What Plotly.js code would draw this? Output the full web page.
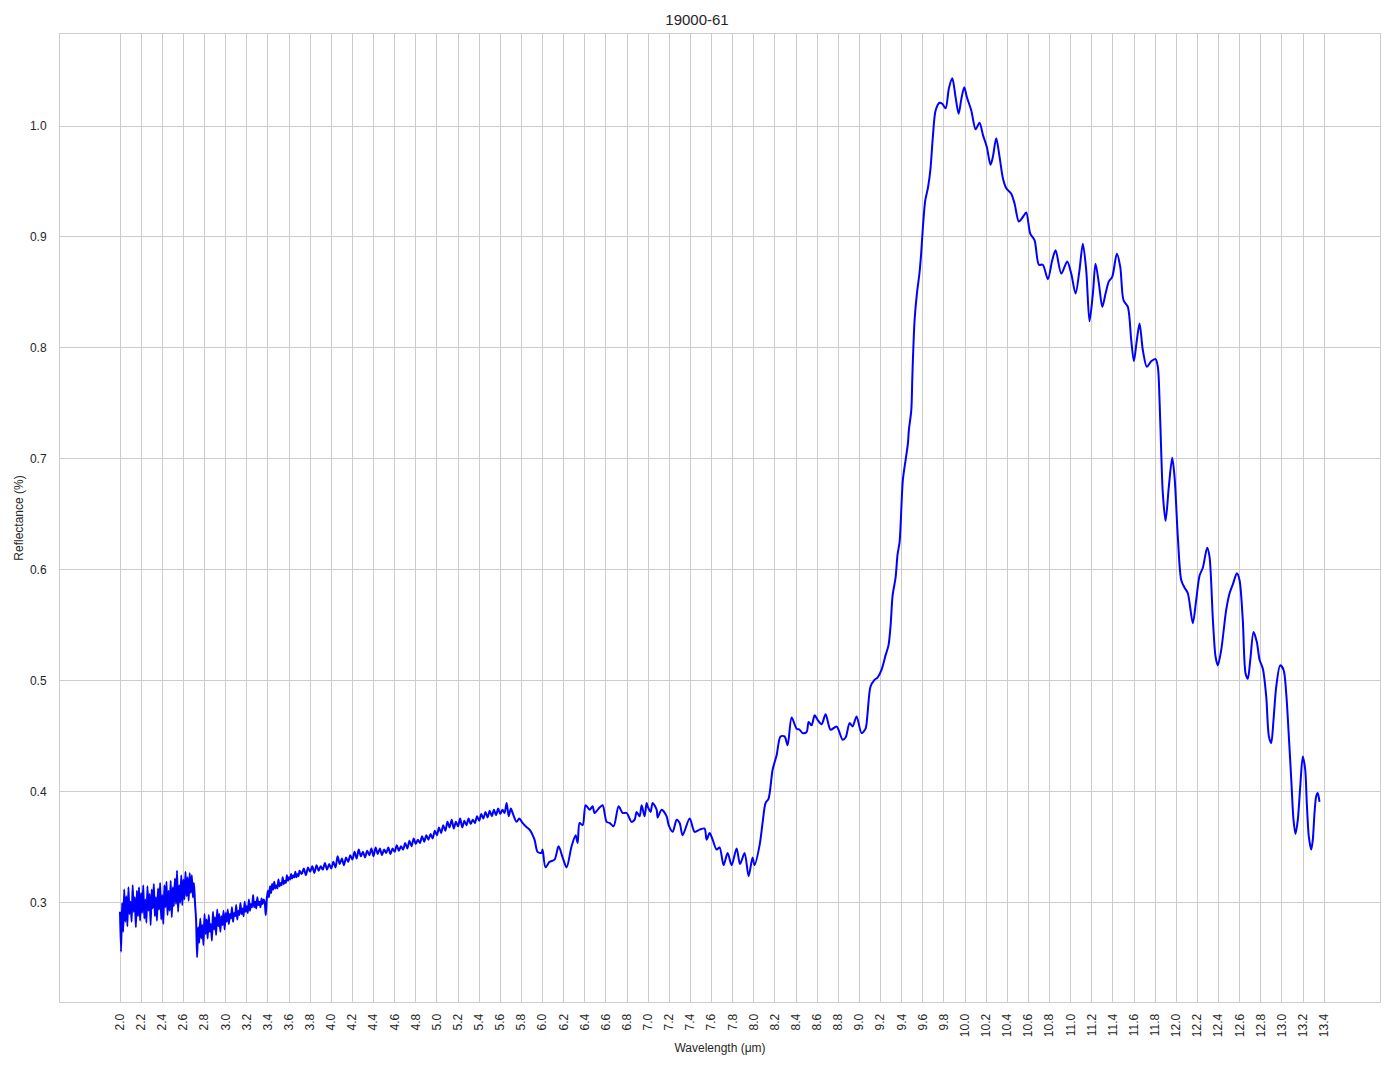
<!DOCTYPE html>
<html>
<head>
<meta charset="utf-8">
<script src="https://cdn.plot.ly/plotly-3.0.1.min.js"></script>
<style>html,body{margin:0;padding:0;background:#fff;}#chart{width:1394px;height:1069px;}</style>
</head>
<body>
<div id="chart"></div>
<script>
// Wavelength (µm) and reflectance readings, noisy short-wave part
const wlNoisy = [2.00,2.01,2.02,2.03,2.04,2.05,2.06,2.07,2.08,2.09,2.10,2.11,2.12,2.13,2.14,2.15,2.16,2.17,2.18,2.19,
2.20,2.21,2.22,2.23,2.24,2.25,2.26,2.27,2.28,2.29,2.30,2.31,2.32,2.33,2.34,2.35,2.36,2.37,2.38,2.39,
2.40,2.41,2.42,2.43,2.44,2.45,2.46,2.47,2.48,2.49,2.50,2.51,2.52,2.53,2.54,2.55,2.56,2.57,2.58,2.59,
2.60,2.61,2.62,2.63,2.64,2.65,2.66,2.67,2.68,2.69,2.70,2.71,2.72,2.73,2.74,2.75,2.76,2.77,2.78,2.79,
2.80,2.81,2.82,2.83,2.84,2.85,2.86,2.87,2.88,2.89,2.90,2.91,2.92,2.93,2.94,2.95,2.96,2.97,2.98,2.99,
3.00,3.01,3.02,3.03,3.04,3.05,3.06,3.07,3.08,3.09,3.10,3.11,3.12,3.13,3.14,3.15,3.16,3.17,3.18,3.19,
3.20,3.21,3.22,3.23,3.24,3.25,3.26,3.27,3.28,3.29,3.30,3.31,3.32,3.33,3.34,3.35,3.36,3.37,3.38,3.39,
3.40,3.41,3.42,3.43,3.44,3.45,3.46,3.47,3.48,3.49,3.50,3.51,3.52,3.53,3.54,3.55,3.56,3.57,3.58,3.59,
3.60,3.61,3.62,3.63,3.64,3.65,3.66,3.67,3.68,3.69,3.70];
const rNoisy = [0.292,0.256,0.300,0.274,0.312,0.283,0.306,0.279,0.314,0.290,0.301,0.283,0.316,0.292,0.305,0.278,0.311,0.288,0.314,0.284,
0.309,0.291,0.316,0.286,0.303,0.282,0.315,0.293,0.308,0.280,0.312,0.295,0.317,0.288,0.305,0.284,0.313,0.294,0.318,0.285,
0.307,0.281,0.316,0.296,0.319,0.289,0.311,0.293,0.320,0.287,0.314,0.297,0.322,0.299,0.329,0.292,0.316,0.300,0.325,0.298,
0.321,0.303,0.328,0.306,0.323,0.302,0.327,0.309,0.325,0.305,0.318,0.300,0.285,0.251,0.278,0.264,0.286,0.268,0.280,0.262,
0.290,0.272,0.285,0.268,0.289,0.274,0.281,0.266,0.292,0.276,0.287,0.271,0.294,0.279,0.290,0.274,0.288,0.280,0.293,0.276,
0.291,0.283,0.294,0.281,0.290,0.286,0.296,0.283,0.291,0.288,0.298,0.285,0.293,0.289,0.300,0.290,0.295,0.288,0.301,0.292,
0.297,0.291,0.303,0.293,0.299,0.296,0.307,0.296,0.301,0.295,0.305,0.298,0.301,0.296,0.304,0.299,0.303,0.300,0.289,0.304,
0.311,0.305,0.315,0.309,0.317,0.312,0.319,0.313,0.316,0.313,0.321,0.315,0.318,0.316,0.323,0.317,0.320,0.318,0.325,0.320,
0.323,0.321,0.326,0.322,0.325,0.323,0.328,0.323,0.326,0.324,0.329];

// Mid-wave part (3.72 - 5.70)
const wlMid = [3.72,3.74,3.76,3.78,3.80,3.82,3.84,3.86,3.88,3.90,3.92,3.94,3.96,3.98,4.00,4.02,4.04,4.06,4.08,4.10,
4.12,4.14,4.16,4.18,4.20,4.22,4.24,4.26,4.28,4.30,4.32,4.34,4.36,4.38,4.40,4.42,4.44,4.46,4.48,4.50,
4.52,4.54,4.56,4.58,4.60,4.62,4.64,4.66,4.68,4.70,4.72,4.74,4.76,4.78,4.80,4.82,4.84,4.86,4.88,4.90,
4.92,4.94,4.96,4.98,5.00,5.02,5.04,5.06,5.08,5.10,5.12,5.14,5.16,5.18,5.20,5.22,5.24,5.26,5.28,5.30,
5.32,5.34,5.36,5.38,5.40,5.42,5.44,5.46,5.48,5.50,5.52,5.54,5.56,5.58,5.60,5.62,5.64,5.66,5.68,5.70];
const rMid = [0.326,0.331,0.325,0.332,0.328,0.333,0.327,0.334,0.329,0.333,0.330,0.336,0.330,0.335,0.331,0.337,0.332,0.342,0.335,0.340,
0.334,0.341,0.337,0.343,0.339,0.346,0.340,0.348,0.342,0.346,0.341,0.347,0.343,0.349,0.342,0.350,0.344,0.349,0.343,0.348,
0.345,0.350,0.344,0.349,0.346,0.352,0.347,0.351,0.348,0.354,0.349,0.356,0.351,0.358,0.353,0.357,0.354,0.360,0.355,0.361,
0.357,0.362,0.358,0.365,0.361,0.368,0.363,0.370,0.365,0.373,0.368,0.375,0.367,0.373,0.369,0.376,0.368,0.374,0.370,0.376,
0.371,0.375,0.372,0.378,0.374,0.380,0.376,0.382,0.377,0.383,0.378,0.384,0.379,0.385,0.380,0.384,0.381,0.390,0.378,0.385];

// Long-wave part (5.72 - 13.36)
const wlLong = [5.717,5.754,5.780,5.811,5.840,5.877,5.924,5.953,5.990,6.000,6.028,6.067,6.114,6.152,6.190,6.228,6.275,6.313,6.332,6.351,6.380,6.408,
6.446,6.474,6.493,6.540,6.569,6.607,6.635,6.673,6.720,6.758,6.796,6.843,6.872,6.891,6.919,6.938,6.966,6.985,6.995,7.023,
7.042,7.080,7.090,7.127,7.175,7.194,7.232,7.270,7.298,7.326,7.393,7.440,7.487,7.534,7.553,7.582,7.610,7.648,7.676,7.714,
7.752,7.790,7.837,7.870,7.913,7.951,7.988,8.007,8.055,8.083,8.111,8.140,8.178,8.216,8.253,8.291,8.320,8.358,8.405,8.434,
8.462,8.500,8.519,8.547,8.576,8.604,8.642,8.680,8.727,8.784,8.841,8.869,8.907,8.935,8.973,9.020,9.058,9.077,9.105,9.143,
9.171,9.209,9.247,9.275,9.295,9.314,9.342,9.361,9.380,9.411,9.437,9.459,9.468,9.491,9.500,9.506,9.522,9.544,9.569,9.585,
9.601,9.623,9.648,9.671,9.695,9.721,9.759,9.784,9.816,9.847,9.879,9.910,9.939,9.964,9.992,10.017,10.059,10.100,10.137,10.169,
10.206,10.241,10.263,10.295,10.327,10.358,10.390,10.437,10.469,10.509,10.547,10.579,10.617,10.658,10.699,10.736,10.784,10.825,10.857,10.911,
10.967,11.005,11.046,11.083,11.115,11.147,11.178,11.210,11.235,11.267,11.299,11.330,11.361,11.393,11.437,11.469,11.500,11.541,11.573,11.598,
11.626,11.652,11.683,11.721,11.762,11.803,11.825,11.841,11.857,11.872,11.898,11.929,11.961,11.983,12.014,12.046,12.078,12.109,12.156,12.188,
12.220,12.251,12.292,12.314,12.346,12.371,12.393,12.425,12.472,12.504,12.535,12.573,12.598,12.629,12.655,12.677,12.700,12.731,12.762,12.788,
12.819,12.851,12.876,12.898,12.920,12.946,12.983,13.015,13.040,13.065,13.088,13.109,13.128,13.150,13.173,13.197,13.220,13.235,13.254,13.277,
13.292,13.308,13.324,13.339,13.355];
const rLong = [0.381,0.373,0.376,0.372,0.369,0.366,0.357,0.346,0.345,0.348,0.332,0.337,0.339,0.351,0.341,0.332,0.351,0.361,0.354,0.372,0.370,0.388,
0.384,0.387,0.381,0.386,0.388,0.373,0.372,0.369,0.387,0.381,0.381,0.373,0.375,0.382,0.378,0.388,0.378,0.390,0.387,0.382,
0.390,0.384,0.377,0.384,0.378,0.370,0.364,0.375,0.372,0.361,0.376,0.364,0.366,0.367,0.357,0.363,0.357,0.348,0.350,0.334,
0.345,0.334,0.349,0.335,0.345,0.324,0.341,0.334,0.352,0.372,0.390,0.394,0.420,0.433,0.450,0.450,0.442,0.467,0.457,0.456,
0.453,0.454,0.463,0.460,0.469,0.465,0.461,0.470,0.456,0.459,0.447,0.449,0.462,0.459,0.468,0.453,0.457,0.471,0.495,0.501,
0.503,0.510,0.523,0.532,0.550,0.577,0.593,0.614,0.625,0.681,0.699,0.714,0.726,0.744,0.771,0.789,0.825,0.849,0.868,0.886,
0.909,0.933,0.944,0.960,0.990,1.014,1.021,1.020,1.016,1.034,1.043,1.026,1.011,1.024,1.035,1.026,1.014,0.997,1.003,0.992,
0.981,0.965,0.972,0.989,0.972,0.953,0.944,0.939,0.930,0.914,0.918,0.922,0.903,0.897,0.875,0.875,0.862,0.879,0.888,0.867,
0.878,0.867,0.849,0.870,0.894,0.870,0.824,0.849,0.876,0.858,0.837,0.849,0.860,0.864,0.885,0.873,0.843,0.837,0.807,0.788,
0.807,0.822,0.798,0.783,0.788,0.790,0.783,0.753,0.706,0.669,0.644,0.675,0.701,0.684,0.630,0.591,0.584,0.579,0.552,0.573,
0.595,0.602,0.620,0.612,0.555,0.522,0.514,0.528,0.564,0.579,0.587,0.597,0.591,0.555,0.507,0.502,0.519,0.544,0.535,0.519,
0.511,0.486,0.450,0.444,0.465,0.495,0.514,0.510,0.489,0.450,0.411,0.375,0.362,0.375,0.405,0.432,0.420,0.390,0.360,0.348,
0.357,0.381,0.396,0.399,0.391];

const xTicks = [2.0,2.2,2.4,2.6,2.8,3.0,3.2,3.4,3.6,3.8,4.0,4.2,4.4,4.6,4.8,5.0,5.2,5.4,5.6,5.8,
6.0,6.2,6.4,6.6,6.8,7.0,7.2,7.4,7.6,7.8,8.0,8.2,8.4,8.6,8.8,9.0,9.2,9.4,9.6,9.8,
10.0,10.2,10.4,10.6,10.8,11.0,11.2,11.4,11.6,11.8,12.0,12.2,12.4,12.6,12.8,13.0,13.2,13.4];
const xTickText = xTicks.map(v => v.toFixed(1));
const yTicks = [0.3,0.4,0.5,0.6,0.7,0.8,0.9,1.0];
const yTickText = ["0.3","0.4","0.5","0.6","0.7","0.8","0.9","1.0"];

const wl = wlNoisy.concat(wlMid, wlLong);
const refl = rNoisy.concat(rMid, rLong);

const font = "Liberation Sans, Arial, sans-serif";
const trace = {
  x: wl, y: refl, type: 'scatter', mode: 'lines',
  line: {color: '#0000ff', width: 2, shape: 'spline', smoothing: 0.8},
  hoverinfo: 'skip'
};
const layout = {
  width: 1394, height: 1069,
  margin: {l: 60, r: 14, t: 34, b: 67},
  paper_bgcolor: '#ffffff', plot_bgcolor: '#ffffff',
  showlegend: false,
  font: {family: font, color: '#262626', size: 12},
  title: {text: '19000-61', x: 0.5, xanchor: 'center', y: 0.9815, yanchor: 'middle',
          font: {family: font, size: 15, color: '#262626'}},
  xaxis: {
    range: [1.432, 13.928], tickvals: xTicks, ticktext: xTickText, tickangle: -90,
    showgrid: true, gridcolor: '#cccccc', gridwidth: 1, zeroline: false,
    showline: true, linecolor: '#cccccc', linewidth: 1, mirror: true,
    ticks: '', ticklen: 0, ticklabelstandoff: 6, tickfont: {family: font, size: 12, color: '#262626'},
    title: {text: 'Wavelength (μm)', standoff: 7, font: {family: font, size: 12, color: '#262626'}}
  },
  yaxis: {
    range: [0.2107, 1.0829], tickvals: yTicks, ticktext: yTickText,
    showgrid: true, gridcolor: '#cccccc', gridwidth: 1, zeroline: false,
    showline: true, linecolor: '#cccccc', linewidth: 1, mirror: true,
    ticks: '', ticklen: 0, ticklabelstandoff: 10, tickfont: {family: font, size: 12, color: '#262626'},
    title: {text: 'Reflectance (%)', standoff: 3, font: {family: font, size: 12, color: '#262626'}}
  }
};
Plotly.newPlot('chart', [trace], layout, {displayModeBar: false, staticPlot: true});
</script>
</body>
</html>
